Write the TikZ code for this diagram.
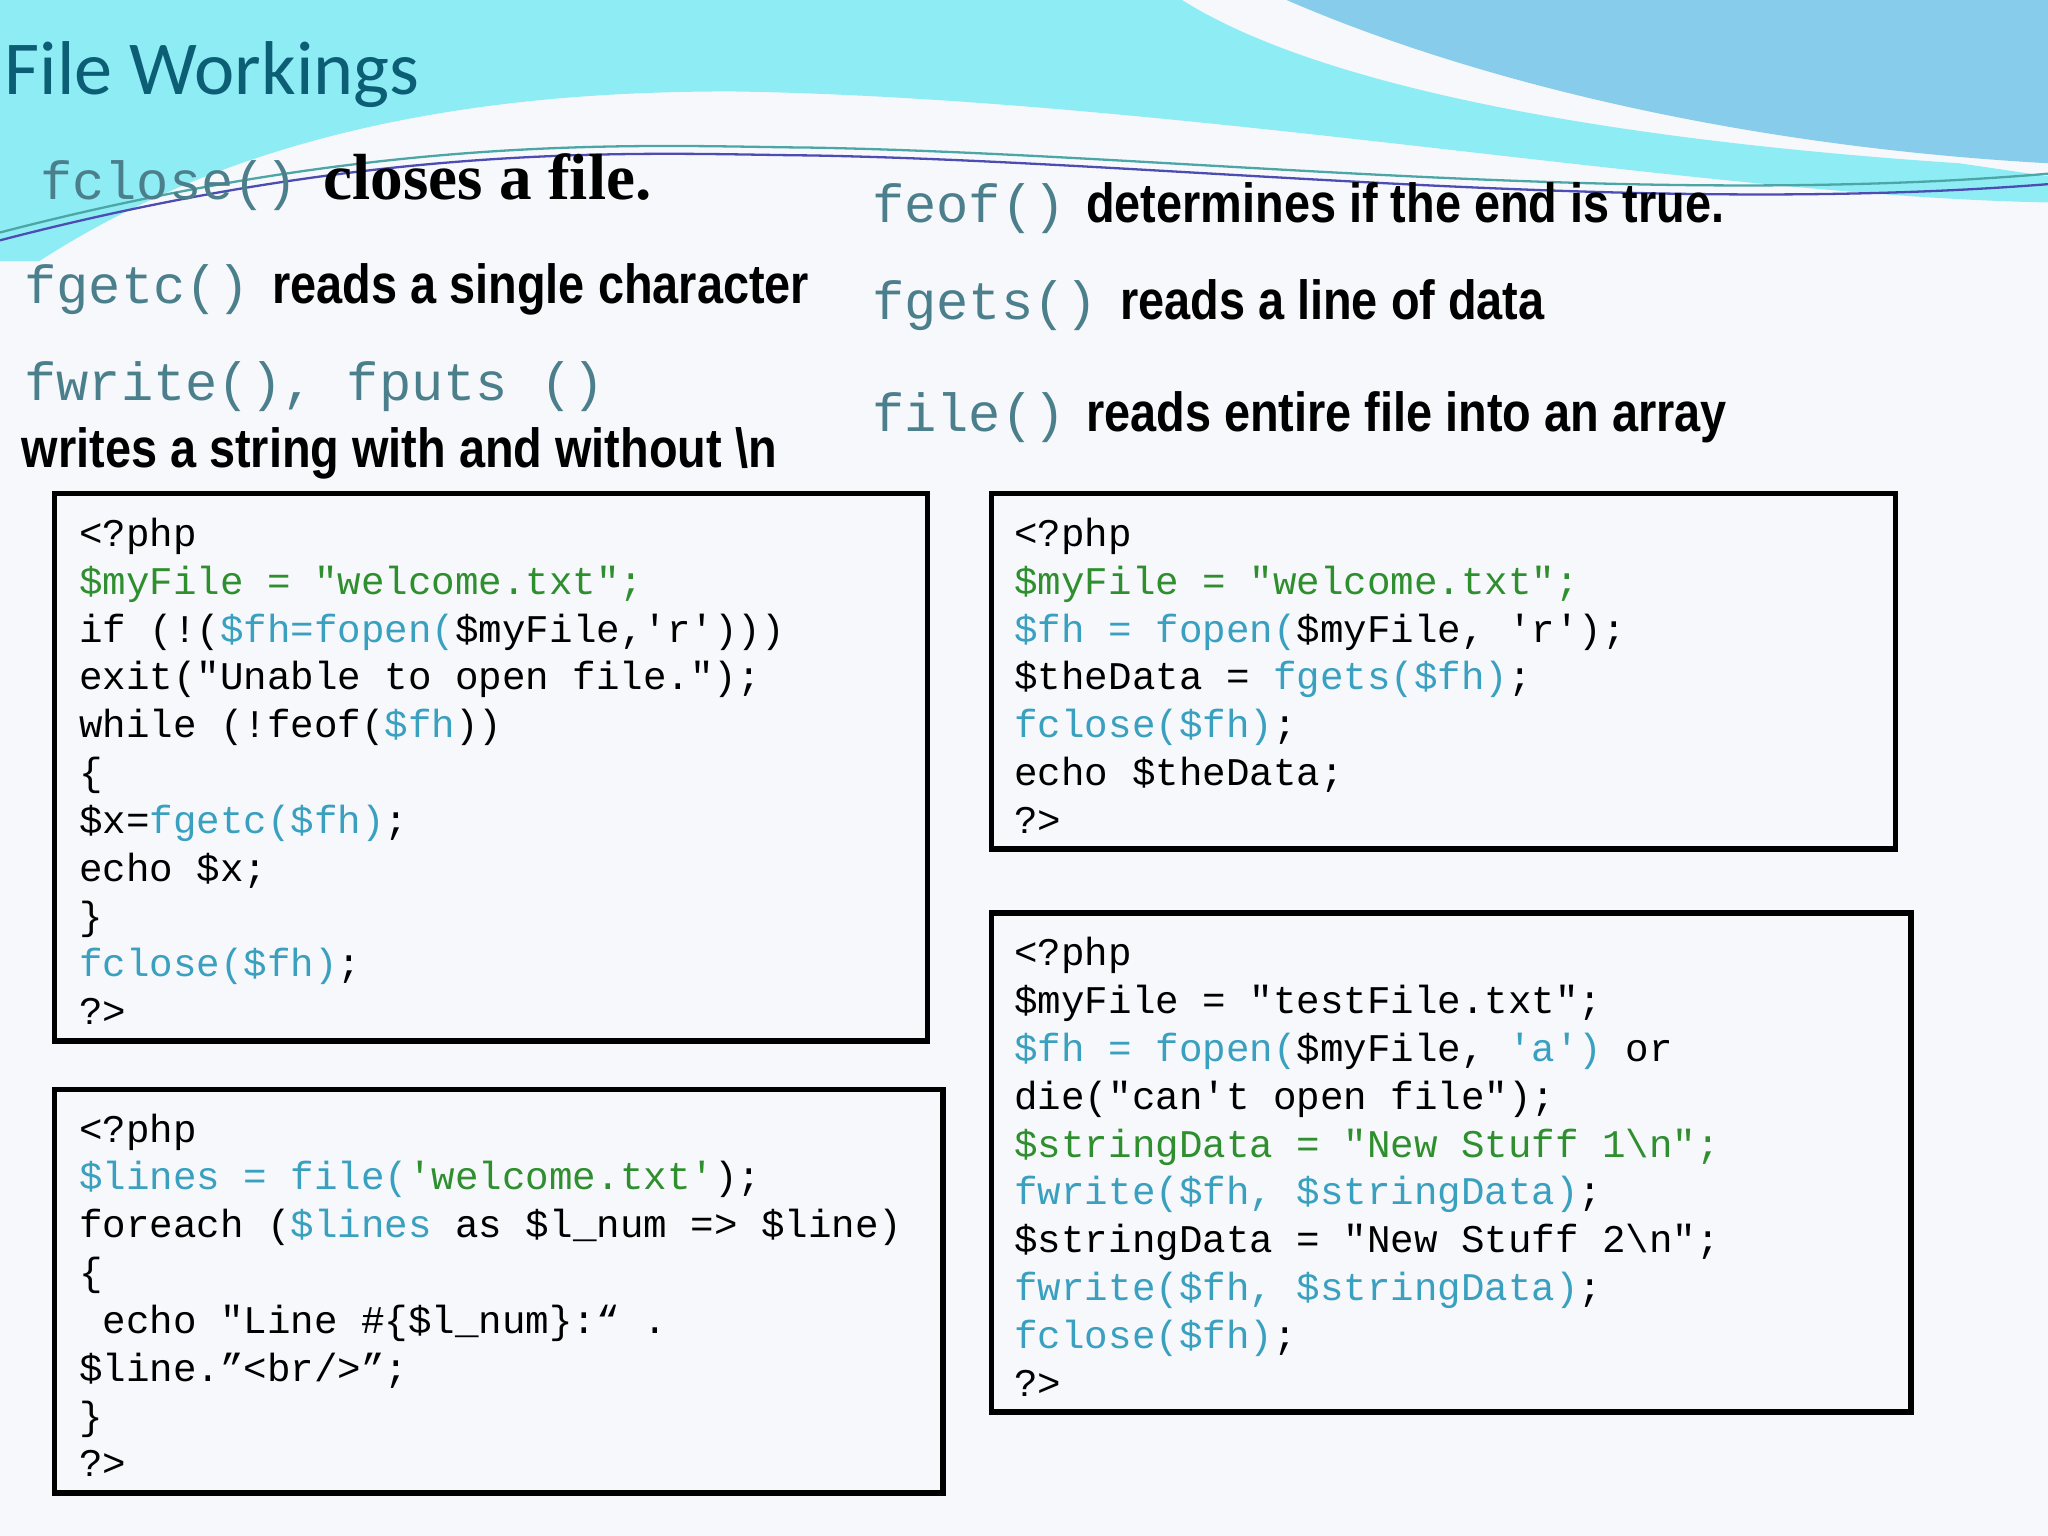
\documentclass[tikz,border=0pt]{standalone}
\usepackage{fontspec}
\newfontfamily\codef{Liberation Mono}
\newfontfamily\hbf[FakeStretch=0.85]{Liberation Sans}
\newfontfamily\serbf{Liberation Serif}
\newfontfamily\titf{Carlito}
\definecolor{bgw}{HTML}{F7F8FC}
\definecolor{cyanbg}{HTML}{8EECF4}
\definecolor{bluebg}{HTML}{88CCEB}
\definecolor{titc}{HTML}{0B5E74}
\definecolor{hm}{HTML}{4C7F8C}
\definecolor{cg}{HTML}{2F8F2F}
\definecolor{ct}{HTML}{3AA0C0}
\newcommand{\cgr}[1]{\textcolor{cg}{#1}}
\newcommand{\ctl}[1]{\textcolor{ct}{#1}}
\tikzset{
 codebox/.style={draw=black,line width=1.15pt},
 code/.style={anchor=north west,inner sep=0pt,align=left,font=\codef\fontsize{8.53}{10.41}\selectfont},
 hmono/.style={anchor=base west,inner sep=0pt,text=hm,font=\codef\fontsize{11.7}{14}\selectfont},
 hdesc/.style={anchor=base west,inner sep=0pt,font=\hbf\bfseries\fontsize{12}{14}\selectfont},
}
\begin{document}
\begin{tikzpicture}[x=0.01cm,y=-0.01cm]
\useasboundingbox (0,0) rectangle (1568,1176);
\fill[bgw] (0,0) rectangle (1568,1176);
\fill[cyanbg] (0,0) -- (905,0) .. controls (1000,60) and (1200,105) .. (1500,125) -- (1568,135) -- (1568,155) .. controls (1300,150) and (900,75) .. (560,70) .. controls (400,70) and (200,90) .. (30,200) -- (0,200) -- cycle;
\fill[bluebg] (985,0) -- (1568,0) -- (1568,125) .. controls (1300,110) and (1100,50) .. (985,0) -- cycle;
\draw[teal!70,line width=0.5pt] (0,178) .. controls (300,100) and (500,112) .. (620,113) .. controls (900,118) and (1250,160) .. (1568,133);
\draw[blue!40!gray,line width=0.5pt] (0,184) .. controls (300,106) and (500,118) .. (620,119) .. controls (900,124) and (1250,166) .. (1568,141);
\node[anchor=base west,inner sep=0pt,text=titc,font=\titf\fontsize{16.6}{20}\selectfont] (title) at (3,72) {File Workings};
% headings
\node[hmono] (h1) at (30,153) {fclose()};
\node[anchor=base west,inner sep=0pt,font=\serbf\bfseries\fontsize{14.2}{16}\selectfont] (d1) at (247,153) {closes a file.};
\node[hmono] (h2) at (18,232) {fgetc()};
\node[hdesc] (d2) at (208,232) {reads a single character};
\node[hmono] (h3) at (18,307) {fwrite(), fputs ()};
\node[hdesc] (d3) at (16,358) {writes a string with and without \textbackslash n};
\node[hmono] (h4) at (667,170) {feof()};
\node[hdesc] (d4) at (831,170) {determines if the end is true.};
\node[hmono] (h5) at (667,245) {fgets()};
\node[hdesc] (d5) at (857,245) {reads a line of data};
\node[hmono] (h6) at (667,330) {file()};
\node[hdesc] (d6) at (831,330) {reads entire file into an array};
% boxes
\draw[codebox] (42,378) rectangle (710,797);
\draw[codebox] (759,378) rectangle (1451,650);
\draw[codebox] (42,834) rectangle (722,1143);
\draw[codebox] (759,699) rectangle (1463,1081);
\node[code] (ca) at (60,396) {<?php\\
\cgr{\$myFile = "welcome.txt";}\\
if (!(\ctl{\$fh=fopen(}\$myFile,'r')))\\
exit("Unable to open file.");\\
while (!feof(\ctl{\$fh}))\\
\{\\
\$x=\ctl{fgetc(\$fh)};\\
echo \$x;\\
\}\\
\ctl{fclose(\$fh)};\\
?>};
\node[code] (cb) at (776,396) {<?php\\
\cgr{\$myFile = "welcome.txt";}\\
\ctl{\$fh = fopen(}\$myFile, 'r');\\
\$theData = \ctl{fgets(\$fh)};\\
\ctl{fclose(\$fh)};\\
echo \$theData;\\
?>};
\node[code] (cc) at (60,852) {<?php\\
\ctl{\$lines = file(}\cgr{'welcome.txt'});\\
foreach (\ctl{\$lines} as \$l\_num => \$line)\\
\{\\
\hspace*{0.6em}echo "Line \#\{\$l\_num\}:“ .\\
\$line.”<br/>”;\\
\}\\
?>};
\node[code] (cd) at (776,717) {<?php\\
\$myFile = "testFile.txt";\\
\ctl{\$fh = fopen(}\$myFile, \ctl{'a')} or\\
die("can't open file");\\
\cgr{\$stringData = "New Stuff 1\textbackslash n";}\\
\ctl{fwrite(\$fh, \$stringData)};\\
\$stringData = "New Stuff 2\textbackslash n";\\
\ctl{fwrite(\$fh, \$stringData)};\\
\ctl{fclose(\$fh)};\\
?>};
\end{tikzpicture}
\end{document}
